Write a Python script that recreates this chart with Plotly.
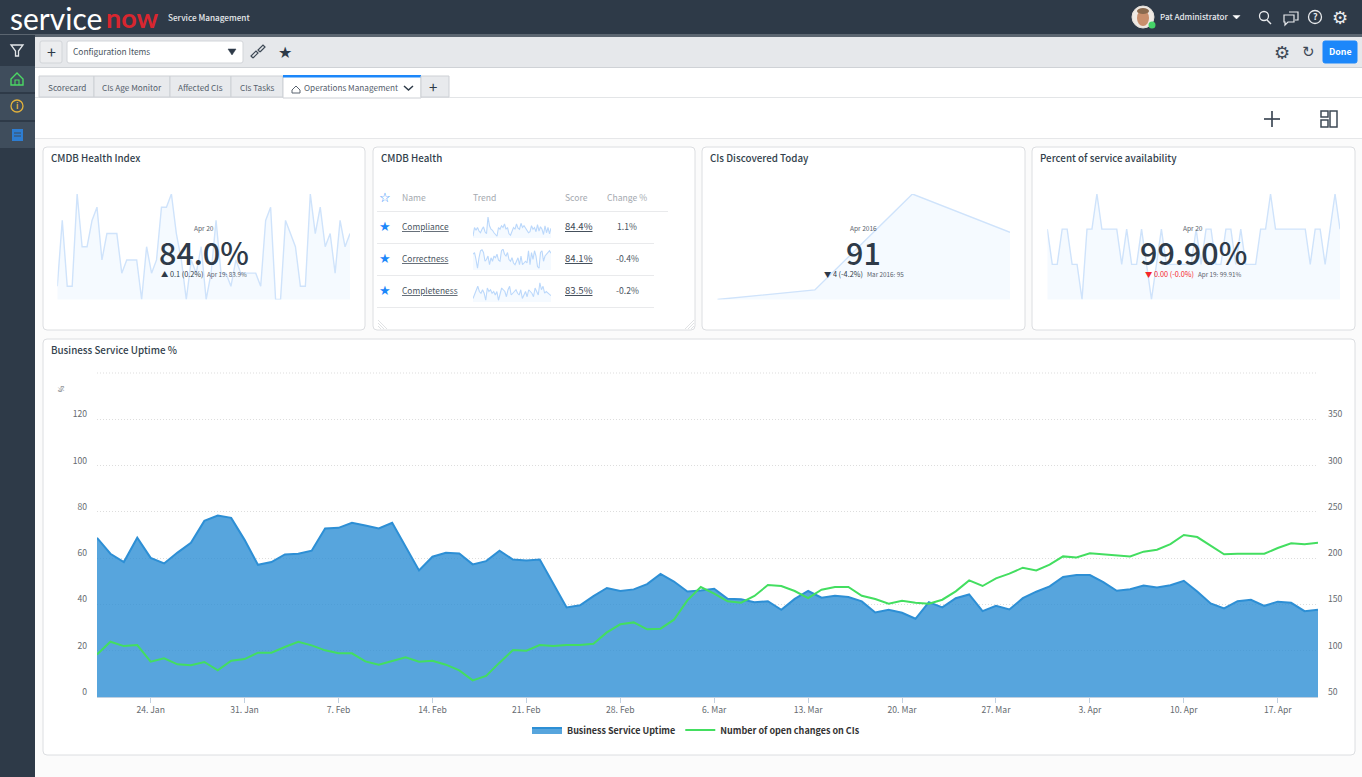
import pandas as pd
import plotly.graph_objects as go

W, H = 1362, 777
FONT = "Noto Sans CJK SC"

# main chart data, one value per day
days = pd.date_range("2016-01-20", "2016-04-20", freq="D")
uptime = [68.8, 61.9, 58.3, 68.8, 60.1, 57.7, 62.4, 66.6, 76.1, 78.4, 77.4, 67.9,
          57.1, 58.3, 61.6, 61.9, 63.2, 72.8, 73.1, 75.3, 74.1, 72.8, 75.3, 64.7, 54.7,
          60.6, 62.3, 62.0, 57.3, 58.7, 63.2, 59.4, 59.0, 59.4, 48.9, 38.7, 39.6, 43.6,
          47.1, 45.8, 46.5, 48.8, 53.2, 49.9, 45.6, 46.0, 46.8, 42.4, 42.2, 40.9, 41.4,
          37.7, 42.4, 45.8, 42.9, 43.7, 43.2, 41.3, 36.5, 37.7, 36.4, 33.8, 41.0, 38.7,
          42.7, 44.3, 37.1, 39.4, 37.8, 42.7, 45.5, 47.8, 51.9, 52.7, 52.7, 49.6, 45.9,
          46.6, 48.2, 47.3, 48.3, 50.2, 45.6, 40.4, 38.3, 41.4, 42.0, 39.4, 41.2, 40.7,
          37.1, 37.7]
open_changes = [96.0, 109.7, 105.0, 106.1, 88.2, 91.8, 85.3, 84.2, 87.8, 78.8, 89.2, 91.0,
                97.9, 97.9, 104.0, 109.7, 105.8, 100.4, 97.2, 97.2, 88.5, 84.9, 88.9, 92.8,
                88.2, 89.2, 84.9, 78.8, 68.0, 72.7, 87.1, 100.8, 100.0, 106.2, 105.1, 106.2,
                106.2, 107.6, 119.8, 128.5, 130.6, 123.1, 123.8, 133.5, 154.4, 168.8, 161.6,
                153.3, 151.9, 159.1, 171.0, 169.9, 164.5, 156.9, 165.9, 168.8, 168.8, 159.4,
                155.8, 150.8, 154.0, 151.9, 150.8, 155.1, 164.1, 176.0, 169.9, 178.2, 183.2,
                189.7, 186.8, 192.9, 201.9, 200.8, 205.2, 204.1, 203.0, 201.9, 207.0, 209.1,
                215.2, 225.0, 222.8, 213.4, 204.1, 204.8, 204.8, 204.8, 210.9, 216.0, 214.9,
                216.7]

# score cards
health_index = [83.6, 84.1, 83.6, 83.6, 84.3, 83.9, 83.9, 84.1, 84.2, 83.8, 84.0, 84.0, 84.0,
                83.7, 83.8, 83.8, 83.8, 83.5, 83.9, 83.7, 83.8, 84.2, 84.2, 84.3, 84.0, 83.8,
                83.5, 83.8, 83.7, 83.9, 83.5, 83.7, 84.1, 83.7, 83.7, 83.6, 83.8, 83.7, 83.7,
                83.7, 83.7, 83.6, 84.1, 84.2, 83.5, 83.5, 84.1, 84.0, 83.9, 83.6, 83.6, 84.3,
                84.0, 84.2, 83.9, 84.0, 83.7, 84.1, 83.9, 84.0]
discovered = [84, 85, 95, 91]
availability = [99.91, 99.90, 99.90, 99.91, 99.91, 99.90, 99.90, 99.89, 99.91, 99.91, 99.92,
                99.91, 99.91, 99.91, 99.91, 99.90, 99.91, 99.90, 99.90, 99.91, 99.90, 99.89,
                99.90, 99.91, 99.90, 99.90, 99.90, 99.90, 99.90, 99.90, 99.91, 99.90, 99.91,
                99.91, 99.90, 99.90, 99.91, 99.91, 99.90, 99.91, 99.90, 99.90, 99.90, 99.91,
                99.91, 99.92, 99.91, 99.91, 99.91, 99.91, 99.91, 99.91, 99.91, 99.90, 99.91,
                99.91, 99.90, 99.91, 99.92, 99.91]

# little trends in the table
compliance = [5, 30, 22, 30, 20, 15, 25, 32, 18, 12, 60, 35, 25, 22, 15, 8, 5, 30, 25, 35, 30,
              40, 25, 30, 12, 8, 20, 30, 25, 40, 28, 25, 42, 30, 35, 28, 22, 15, 18, 35, 25, 30,
              18, 38, 20, 32, 25, 10, 35, 15, 30, 12, 28]
correctness = [45, 50, 30, 5, 35, 55, 58, 50, 25, 30, 40, 15, 35, 25, 40, 35, 45, 28, 25, 55,
               60, 45, 40, 50, 30, 25, 35, 20, 15, 25, 35, 15, 40, 15, 20, 25, 20, 55, 15, 50,
               30, 55, 40, 10, 5, 50, 55, 25, 40, 45, 50, 55, 48]
completeness = [10, 20, 30, 45, 30, 25, 35, 25, 5, 40, 30, 35, 25, 30, 20, 30, 5, 25, 40, 35, 30,
                15, 35, 45, 20, 25, 30, 35, 25, 20, 35, 10, 20, 30, 15, 35, 30, 25, 15, 40, 30,
                20, 55, 35, 45, 25, 30, 25, 20, 18]

row_names = ["Compliance", "Correctness", "Completeness"]
row_scores = ["84.4%", "84.1%", "83.5%"]
row_changes = ["1.1%", "-0.4%", "-0.2%"]
tab_names = ["Scorecard", "CIs Age Monitor", "Affected CIs", "CIs Tasks"]
tab_edges = [39, 94, 170, 231, 283]
left_ticks = [0, 20, 40, 60, 80, 100, 120, 140]
left_labels = ["0", "20", "40", "60", "80", "100", "120", ""]
right_ticks = [50, 100, 150, 200, 250, 300, 350, 400]
right_labels = ["50", "100", "150", "200", "250", "300", "350", ""]

DARK = "#2E3A48"
SPARK_LINE = "#CFE3FB"
SPARK_FILL = "rgba(205,228,255,0.2)"

shapes = []
notes = []


def px(x):
    return x / W


def py(y):
    return 1 - y / H


def rect(x0, y0, x1, y1, fill="rgba(0,0,0,0)", line=None, lw=1):
    shapes.append(dict(type="rect", xref="paper", yref="paper", x0=px(x0), x1=px(x1),
                       y0=py(y0), y1=py(y1), fillcolor=fill, layer="below",
                       line=dict(color=line or "rgba(0,0,0,0)", width=lw if line else 0)))


def round_rect(x0, y0, x1, y1, r=4, fill="white", line="#DCDEE1"):
    p = (f"M{px(x0 + r)},{py(y0)} L{px(x1 - r)},{py(y0)} Q{px(x1)},{py(y0)} {px(x1)},{py(y0 + r)} "
         f"L{px(x1)},{py(y1 - r)} Q{px(x1)},{py(y1)} {px(x1 - r)},{py(y1)} L{px(x0 + r)},{py(y1)} "
         f"Q{px(x0)},{py(y1)} {px(x0)},{py(y1 - r)} L{px(x0)},{py(y0 + r)} Q{px(x0)},{py(y0)} {px(x0 + r)},{py(y0)} Z")
    shapes.append(dict(type="path", xref="paper", yref="paper", path=p, fillcolor=fill,
                       line=dict(color=line, width=1), layer="below"))


def poly(points, color, lw=1.5, fill=None, closed=False, layer="above"):
    p = "M" + " L".join(f"{px(x)},{py(y)}" for x, y in points) + (" Z" if closed else "")
    shapes.append(dict(type="path", xref="paper", yref="paper", path=p, layer=layer,
                       fillcolor=fill or "rgba(0,0,0,0)", line=dict(color=color, width=lw)))


def circle(cx, cy, r, color, lw=1.5, fill=None, ry=None):
    ry = ry or r
    shapes.append(dict(type="circle", xref="paper", yref="paper", x0=px(cx - r), x1=px(cx + r),
                       y0=py(cy + ry), y1=py(cy - ry), fillcolor=fill or "rgba(0,0,0,0)",
                       line=dict(color=color, width=lw), layer="above"))


def text(x, y, s, size=10, color="#4A5561", anchor="left", weight=None, family=FONT, angle=0):
    font = dict(size=size, color=color, family=family)
    if weight:
        font["weight"] = weight
    # this font sits about a pixel low in its box
    if family == FONT:
        y -= 0.8
    notes.append(dict(x=px(x), y=py(y), xref="paper", yref="paper", text=s, showarrow=False,
                      xanchor=anchor, yanchor="middle", font=font, textangle=angle,
                      borderpad=0, borderwidth=0))


# page chrome
rect(0, 0, W, H, fill="#FBFBFB")
rect(0, 0, W, 35, fill=DARK)
rect(0, 34, W, 37, fill="#5B6570")
rect(35, 37, W, 68, fill="#E6E8EB")
rect(35, 67, W, 68, fill="#CFD2D6")
rect(35, 68, W, 138, fill="white")
rect(35, 97, W, 98, fill="#E3E5E7")
rect(35, 138, W, 139, fill="#E6E7E9")
rect(0, 35, 35, H, fill=DARK)
for y0, y1 in [(66, 92), (94, 120), (122, 148)]:
    rect(0, y0, 35, y1, fill="#3F4D5C")

text(10, 18, "service", 30, "white", family="Lato", weight=400)
text(106, 18, "now", 27, "#D8262F", family="Lato", weight=700)
text(168, 18, "Service Management", 8.2, "#E8EAED", weight=500)

# user corner
circle(1143, 17, 11, "#E5E0DA", 1, fill="#EFE9E3")
circle(1143, 18, 6, "#C98F6C", 0, fill="#C98F6C", ry=8)
circle(1143, 11, 6, "#8A6A4E", 0, fill="#8A6A4E", ry=3)
circle(1152, 25, 3.5, "#45D368", 0, fill="#45D368")
text(1160, 17, "Pat Administrator", 8.1, "#E8EAED", weight=500)
poly([(1233, 15.5), (1240, 15.5), (1236.5, 19)], "white", 0.5, fill="white", closed=True)
circle(1264, 16, 4.5, "#E8EAED", 1.3)
poly([(1267, 20), (1271, 24)], "#E8EAED", 1.5)
poly([(1289, 12), (1298, 12), (1298, 20), (1295, 20)], "#E8EAED", 1.2)
poly([(1284, 15), (1294, 15), (1294, 22), (1288, 22), (1285, 25), (1285, 22), (1284, 22)], "#E8EAED", 1.2, closed=True)
circle(1315, 17, 6.5, "#E8EAED", 1.3)
text(1315, 17, "?", 9, "#E8EAED", "center", weight=700)
text(1340, 17, "⚙", 18, "#E8EAED", "center", family="DejaVu Sans")

# sidebar icons
poly([(11, 45), (23, 45), (18.5, 51), (18.5, 56), (15.5, 56), (15.5, 51)], "#E3E6E9", 1.3, closed=True)
poly([(11, 79), (17, 73), (23, 79), (23, 85), (11, 85)], "#4CD964", 1.4, closed=True)
poly([(15, 85), (15, 80), (19, 80), (19, 85)], "#4CD964", 1.1)
circle(17, 106, 6, "#E3B23C", 1.3)
text(17, 106, "i", 8, "#E3B23C", "center", weight=700)
rect(12, 129, 23, 141, fill="#2D7DD2")
poly([(14, 133), (21, 133)], "#3F4D5C", 1)
poly([(14, 136), (21, 136)], "#3F4D5C", 1)

# toolbar
round_rect(40, 41, 62, 63, 2, "#ECEDEF", "#D2D5D9")
text(51, 52, "+", 16, "#2E3A48", "center")
round_rect(67, 41, 243, 63, 2, "white", "#D2D5D9")
text(73, 52, "Configuration Items", 8.4, "#4A5561")
poly([(228, 49), (236, 49), (232, 55)], "#2E3A48", 0.5, fill="#2E3A48", closed=True)
poly([(253, 58), (258, 53), (256, 51), (251, 56), (253, 58)], "#3E4956", 1.2)
poly([(260, 52), (265, 47), (263, 45), (258, 50), (260, 52)], "#3E4956", 1.2)
text(285, 52, "★", 16, "#2E3A48", "center", family="DejaVu Sans")
text(1282, 52, "⚙", 18, "#3E4956", "center", family="DejaVu Sans")
text(1308, 52, "↻", 15, "#3E4956", "center", family="DejaVu Sans")
round_rect(1323, 41, 1357, 63, 2, "#1C87FA", "#1C87FA")
text(1340, 52, "Done", 8.8, "white", "center", weight=700)

# tabs
for i, name in enumerate(tab_names):
    rect(tab_edges[i], 76, tab_edges[i + 1], 97, fill="#E8EAED", line="#CDD0D5")
    text((tab_edges[i] + tab_edges[i + 1]) / 2, 88, name, 8.2, "#55606C", "center")
rect(283, 76, 421, 98, fill="white", line="#CDD0D5")
rect(283, 75, 421, 77.5, fill="#1C87FA")
poly([(292, 90), (296, 86), (300, 90), (300, 93), (292, 93)], "#5A6470", 1, closed=True)
text(304, 88, "Operations Management", 8.2, "#55606C")
poly([(404, 86), (408.5, 90), (413, 86)], "#2E3A48", 1.5)
rect(421, 76, 449, 97, fill="#E8EAED", line="#CDD0D5")
text(433, 87, "+", 15, "#2E3A48", "center")
poly([(1272, 111), (1272, 127)], "#3E4956", 1.7)
poly([(1264, 119), (1280, 119)], "#3E4956", 1.7)
rect(1321, 111, 1328, 117, line="#3E4956", lw=1.5)
rect(1321, 120, 1328, 127, line="#3E4956", lw=1.5)
rect(1330, 111, 1337, 127, line="#3E4956", lw=1.5)

# cards
cards = [(43, 147, 365, 330, "CMDB Health Index"), (373, 147, 695, 330, "CMDB Health"),
         (702, 147, 1025, 330, "CIs Discovered Today"),
         (1032, 147, 1355, 330, "Percent of service availability"),
         (43, 339, 1355, 755, "Business Service Uptime %")]
for x0, y0, x1, y1, title in cards:
    round_rect(x0, y0, x1, y1)
    text(x0 + 8, y0 + 12, title, 9.8, "#333F4C", weight=500)

# score card labels
text(204, 229, "Apr 20", 6.6, "#56606B", "center")
text(204, 253, "84.0%", 30.5, "#2E3A48", "center", weight=500)
text(161, 275, "▲ 0.1 (0.2%)", 7.3, "#2E3A48")
text(207, 275, "Apr 19: 83.9%", 6.3, "#56606B")
text(863, 229, "Apr 2016", 6.6, "#56606B", "center")
text(863, 253, "91", 30.5, "#2E3A48", "center", weight=500)
text(824, 275, "▼ 4 (-4.2%)", 7.3, "#2E3A48")
text(867, 275, "Mar 2016: 95", 6.3, "#56606B")
text(1193, 229, "Apr 20", 6.6, "#56606B", "center")
text(1193, 253, "99.90%", 30.5, "#2E3A48", "center", weight=500)
text(1145, 275, "▼ 0.00 (-0.0%)", 7.3, "#F5262B")
text(1198, 275, "Apr 19: 99.91%", 6.3, "#56606B")

# table in the CMDB Health card
text(385, 198, "☆", 13, "#1C87FA", "center", family="DejaVu Sans")
text(402, 198, "Name", 8.6, "#A4A9AF")
text(473, 198, "Trend", 8.6, "#A4A9AF")
text(565, 198, "Score", 8.6, "#A4A9AF")
text(607, 198, "Change %", 8.6, "#A4A9AF")
rect(377, 211, 668, 212, fill="#E9EAEC")
for i, name in enumerate(row_names):
    y = 227 + 32 * i
    text(385, y, "★", 13, "#1C87FA", "center", family="DejaVu Sans")
    text(402, y, f"<u>{name}</u>", 8.4, "#4A5561")
    text(565, y, f"<u>{row_scores[i]}</u>", 9.6, "#3E4956")
    text(627, y, row_changes[i], 8.6, "#4A5561", "center")
    rect(377, y + 16, 654, y + 17, fill="#E9EAEC")
for ox, sign in [(378, 1), (689, -1)]:
    for d in (3, 6, 9):
        poly([(ox + sign * 0, 329 - d), (ox + sign * d, 329)] if sign > 0 else
             [(ox + 5, 329 - d), (ox + 5 - d, 329)], "#D2D5D9", 0.7)

fig = go.Figure()

fig.add_trace(go.Scatter(x=days, y=uptime, name="Business Service Uptime", mode="lines",
                         fill="tozeroy", fillcolor="rgba(45,143,213,0.8)",
                         line=dict(color="#2D8FD5", width=2), xaxis="x", yaxis="y"))
fig.add_trace(go.Scatter(x=days, y=open_changes, name="Number of open changes on CIs", mode="lines",
                         line=dict(color="#43DE60", width=2), xaxis="x", yaxis="y2"))

axes = {}
tick_font = dict(size=8.6, color="#666B70", family=FONT)
axes["xaxis"] = dict(domain=[px(97), px(1318)], type="date",
                     range=["2016-01-20", "2016-04-20"], tick0="2016-01-24", dtick=7 * 86400000,
                     tickformat="%-d. %b", ticks="outside", ticklen=5, tickcolor="#C0D0E0",
                     showline=True, linecolor="#C0D0E0", showgrid=False, tickfont=tick_font,
                     anchor="y", zeroline=False)
axes["yaxis"] = dict(domain=[py(697), py(373)], range=[0, 140], tickvals=left_ticks, ticktext=left_labels,
                     gridcolor="#DDDDDD", griddash="1px,2px", gridwidth=1, zeroline=False, tickfont=tick_font,
                     anchor="x", ticklabelstandoff=9, ticklabelshift=-5)
axes["yaxis2"] = dict(domain=[py(697), py(373)], range=[50, 400], tickvals=right_ticks, ticktext=right_labels,
                      overlaying="y", side="right", showgrid=False, zeroline=False, tickfont=tick_font,
                      anchor="x", ticklabelstandoff=9, ticklabelshift=-5)
text(61, 390, "%", 7, "#666B70", "center", angle=-90)
# the top grid line sits on the axis edge and plotly leaves it out
shapes.append(dict(type="line", xref="paper", yref="paper", x0=px(97), x1=px(1318), y0=py(373), y1=py(373),
                   line=dict(color="#DDDDDD", width=1, dash="1px,2px"), layer="below"))

# every sparkline gets its own hidden pair of axes
sparks = [(health_index, 57.3, 350, 194, 299.5, 83.5, 84.3),
          (discovered, 717.3, 1010, 194, 299.5, 84, 95),
          (availability, 1047.3, 1340, 194, 299.5, 99.89, 99.92),
          (compliance, 473, 551, 217, 238, 0, 60),
          (correctness, 473, 551, 249, 270, 0, 60),
          (completeness, 473, 551, 281, 302, 0, 60)]
for k, (vals, x0, x1, y0, y1, lo, hi) in enumerate(sparks):
    xname, yname = f"x{k + 2}", f"y{k + 3}"
    fig.add_trace(go.Scatter(x=list(range(len(vals))), y=vals, mode="lines", fill="tozeroy",
                             fillcolor=SPARK_FILL, showlegend=False, hoverinfo="skip",
                             line=dict(color=SPARK_LINE if k < 3 else "#BBD8FB", width=1.4 if k < 3 else 1.1),
                             xaxis=xname, yaxis=yname))
    axes[f"xaxis{k + 2}"] = dict(domain=[px(x0), px(x1)], range=[0, len(vals) - 1], visible=False, anchor=yname)
    axes[f"yaxis{k + 3}"] = dict(domain=[py(y1), py(y0)], range=[lo, hi], visible=False, anchor=xname)

fig.update_layout(width=W, height=H, margin=dict(l=0, r=0, t=0, b=0, autoexpand=False), paper_bgcolor="white",
                  plot_bgcolor="rgba(0,0,0,0)", shapes=shapes, annotations=notes,
                  font=dict(family=FONT, color="#333"),
                  legend=dict(orientation="h", x=px(696), xanchor="center", y=py(730), yanchor="middle",
                              font=dict(size=9, color="#333", family=FONT, weight=700),
                              bgcolor="rgba(0,0,0,0)", itemwidth=30),
                  **axes)

fig.write_html("out.html", config={"displayModeBar": False},
               post_script="document.body.style.margin='0';document.body.style.overflow='hidden';")
